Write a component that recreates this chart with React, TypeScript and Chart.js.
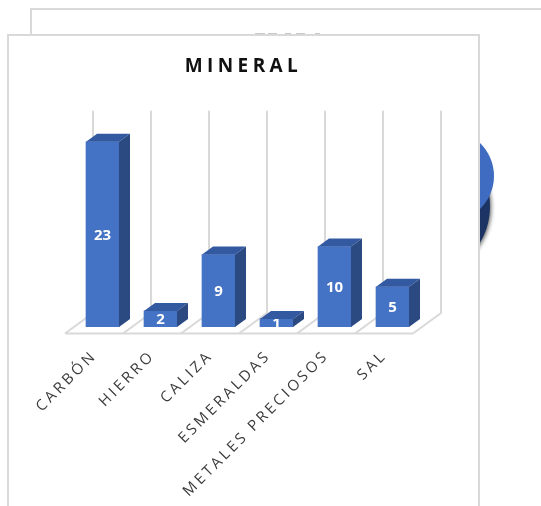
import React, { useEffect, useRef } from "react";
import { Chart, registerables } from "chart.js";

Chart.register(...registerables);

const categories = ["CARBÓN", "HIERRO", "CALIZA", "ESMERALDAS", "METALES PRECIOSOS", "SAL"];
const seriesValues = [23, 2, 9, 1, 10, 5];
const chartTitle = "MINERAL";

const FONT = '"Open Sans", "Noto Sans", sans-serif';
const FRONT = "#4472c4";
const SIDE = "#2b4a82";
const TOP = "#3359a1";
const EDGE = "#d9d9d9";
const TICK_SPACING = "3px";
const TITLE_SPACING = "4.4px";

function spacing(ctx: any, v: string) {
  try {
    ctx.letterSpacing = v;
  } catch {}
}

const backdrop = {
  id: "backdrop",
  beforeLayout(chart: any) {
    spacing(chart.ctx, TICK_SPACING);
  },
  beforeDraw(chart: any) {
    const ctx = chart.ctx;
    const block = chart.titleBlock;
    if (block && !block.__wrapped) {
      const orig = block.draw.bind(block);
      block.draw = (c: any) => {
        spacing(chart.ctx, TITLE_SPACING);
        orig(c);
        spacing(chart.ctx, TICK_SPACING);
      };
      block.__wrapped = true;
    }
    ctx.save();
    spacing(ctx, "0px");
    ctx.fillStyle = "#fff";
    ctx.fillRect(0, 0, chart.width, chart.height);
    // the chart that lies behind this one
    ctx.strokeStyle = EDGE;
    ctx.lineWidth = 2;
    ctx.strokeRect(31, 9, 560, 600);
    // its pie, showing past the front panel
    ctx.save();
    ctx.shadowColor = "rgba(0,0,0,0.65)";
    ctx.shadowBlur = 4;
    ctx.shadowOffsetX = 1;
    ctx.shadowOffsetY = 1;
    ctx.fillStyle = "#1b3463";
    ctx.beginPath();
    ctx.ellipse(445, 206, 45, 58, 0, 0, Math.PI * 2);
    ctx.fill();
    ctx.restore();
    ctx.fillStyle = "#3f6cc0";
    ctx.beginPath();
    ctx.ellipse(448, 176, 46, 46, 0, 0, Math.PI * 2);
    ctx.fill();
    // front panel
    ctx.fillStyle = "#fff";
    ctx.fillRect(8, 35, 471, 490);
    ctx.strokeStyle = EDGE;
    ctx.strokeRect(8, 35, 471, 490);
    // top of the hidden title, just above the panel's edge
    ctx.fillStyle = "#c8c8c8";
    [[255, 10], [268, 9], [285, 6], [296, 9], [315, 5]].forEach(([x, w]) => ctx.fillRect(x, 33, w, 1));
    ctx.restore();
    spacing(ctx, TICK_SPACING);
  },
  beforeDatasetsDraw(chart: any) {
    const ctx = chart.ctx;
    const x = chart.scales.x;
    const bottom = chart.chartArea.bottom;
    const step = x.getPixelForTick(1) - x.getPixelForTick(0);
    const first = x.getPixelForTick(0) - step / 2 - 8.5;
    const last = first + step * categories.length;
    const frontY = bottom + 6.5;
    const backY = bottom - 14;
    const backTop = chart.chartArea.top - 15;
    ctx.save();
    ctx.strokeStyle = EDGE;
    ctx.lineWidth = 2;
    ctx.beginPath();
    ctx.moveTo(first, frontY);
    ctx.lineTo(last, frontY);
    ctx.stroke();
    for (let i = 0; i <= categories.length; i++) {
      const fx = first + step * i;
      ctx.beginPath();
      ctx.moveTo(fx, frontY);
      ctx.lineTo(fx + 28, backY);
      ctx.lineTo(fx + 28, backTop);
      ctx.stroke();
    }
    ctx.restore();
  },
  afterDatasetsDraw(chart: any) {
    const ctx = chart.ctx;
    const meta = chart.getDatasetMeta(0);
    ctx.save();
    spacing(ctx, "0px");
    ctx.font = `bold 15px ${FONT}`;
    ctx.fillStyle = "#fff";
    ctx.textAlign = "center";
    ctx.textBaseline = "middle";
    meta.data.forEach((bar: any, i: number) => {
      ctx.fillText(String(seriesValues[i]), bar.x, (bar.y + bar.base) / 2 + 1);
    });
    const dx = 11;
    const dy = -8;
    meta.data.forEach((bar: any) => {
      const l = bar.x - bar.width / 2;
      const r = bar.x + bar.width / 2;
      ctx.fillStyle = TOP;
      ctx.beginPath();
      ctx.moveTo(l, bar.y);
      ctx.lineTo(l + dx, bar.y + dy);
      ctx.lineTo(r + dx, bar.y + dy);
      ctx.lineTo(r, bar.y);
      ctx.closePath();
      ctx.fill();
      ctx.fillStyle = SIDE;
      ctx.beginPath();
      ctx.moveTo(r, bar.y);
      ctx.lineTo(r + dx, bar.y + dy);
      ctx.lineTo(r + dx, bar.base + dy);
      ctx.lineTo(r, bar.base);
      ctx.closePath();
      ctx.fill();
    });
    ctx.restore();
    spacing(ctx, TICK_SPACING);
  },
};

export default function App() {
  const ref = useRef<HTMLCanvasElement>(null);
  useEffect(() => {
    const chart = new Chart(ref.current!, {
      type: "bar",
      data: {
        labels: categories,
        datasets: [
          {
            data: seriesValues,
            backgroundColor: FRONT,
            barThickness: 33,
            borderWidth: 0,
          },
        ],
      },
      options: {
        responsive: false,
        animation: false,
        devicePixelRatio: 1,
        layout: { padding: { left: 0, right: 54, top: 0, bottom: 0 } },
        plugins: {
          legend: { display: false },
          tooltip: { enabled: false },
          title: {
            display: true,
            text: chartTitle,
            color: "#111",
            font: { family: FONT, size: 19, weight: "bold", lineHeight: 1.2 },
            padding: { top: 55, bottom: 47.95 },
          },
        },
        scales: {
          x: {
            grid: { display: false },
            border: { display: false },
            ticks: {
              autoSkip: false,
              minRotation: 45,
              maxRotation: 45,
              labelOffset: -8,
              padding: 12,
              color: "#3c3c3c",
              font: { family: FONT, size: 15 },
            },
            afterFit(s: any) {
              s.height = 506 - 327;
            },
          },
          y: {
            min: 0,
            max: 25,
            grid: { display: false },
            border: { display: false },
            ticks: { display: false },
            afterFit(s: any) {
              s.width = 73.5;
            },
          },
          y2: {
            position: "right",
            grid: { display: false },
            border: { display: false },
            ticks: { display: false },
            afterFit(s: any) {
              s.width = 65.5;
            },
          },
        },
      },
      plugins: [backdrop],
    } as any);
    return () => chart.destroy();
  }, []);
  return (
    <canvas
      ref={ref}
      width={541}
      height={506}
      style={{ position: "absolute", left: 0, top: 0, width: 541, height: 506 }}
    />
  );
}
